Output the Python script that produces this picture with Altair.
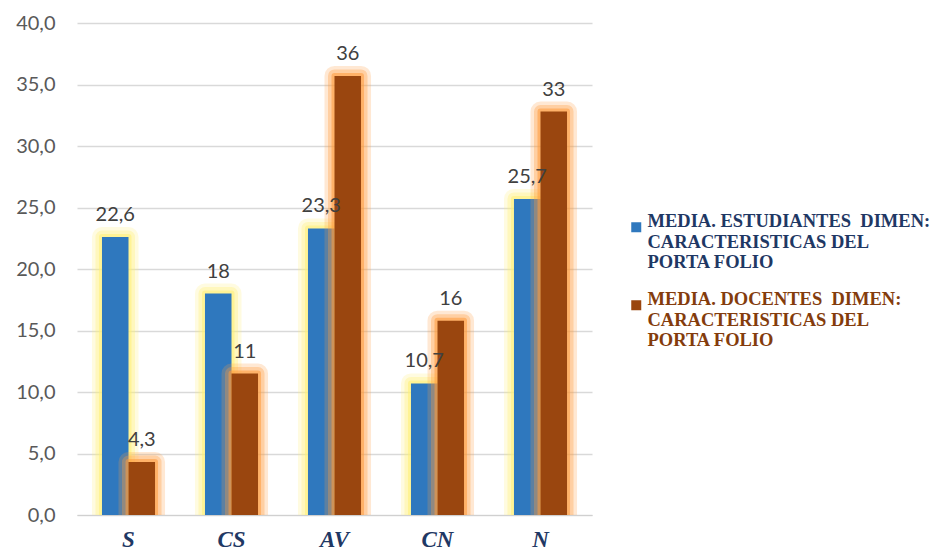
import altair as alt
import pandas as pd

categories = ["S", "CS", "AV", "CN", "N"]
series_est = "MEDIA. ESTUDIANTES\u00a0 DIMEN:|CARACTERISTICAS DEL|PORTA FOLIO"
series_doc = "MEDIA. DOCENTES\u00a0 DIMEN:|CARACTERISTICAS DEL|PORTA FOLIO"
estudiantes = [22.6, 18.0, 23.3, 10.7, 25.7]
docentes = [4.3, 11.5, 35.7, 15.8, 32.8]
estudiantes_labels = ["22,6", "18", "23,3", "10,7", "25,7"]
docentes_labels = ["4,3", "11", "36", "16", "33"]
y_ticks = [0, 5, 10, 15, 20, 25, 30, 35, 40]

BLUE = "#2F78BE"
BROWN = "#9A460F"
BLUE_GLOW = "#FFF176"
BROWN_GLOW = "#FF9C3C"

rows = []
for c, v, l in zip(categories, estudiantes, estudiantes_labels):
    rows.append({"cat": c, "series": series_est, "value": v, "label": l})
for c, v, l in zip(categories, docentes, docentes_labels):
    rows.append({"cat": c, "series": series_doc, "value": v, "label": l})
df = pd.DataFrame(rows)

x_enc = alt.X("cat:N", sort=categories,
              scale=alt.Scale(paddingInner=0.485, paddingOuter=0.2425),
              axis=alt.Axis(title=None, labelAngle=0, ticks=False,
                            labelFont="Liberation Serif", labelFontWeight="bold",
                            labelFontStyle="italic", labelFontSize=23,
                            labelColor="#1F3864", labelPadding=13,
                            domain=True, domainColor="#D0D0D0", grid=False))
xo_enc = alt.XOffset("series:N", sort=[series_est, series_doc],
                     scale=alt.Scale(domain=[series_est, series_doc], paddingInner=0, paddingOuter=0))
y_enc = alt.Y("value:Q", scale=alt.Scale(domain=[0, 40], nice=False),
              axis=alt.Axis(title=None, values=y_ticks, ticks=False, domain=False,
                            gridColor="#D9D9D9", gridWidth=1.3,
                            labelFont="Lato", labelFontSize=20, labelColor="#595959",
                            labelPadding=22,
                            labelExpr="replace(format(datum.value, '.1f'), '.', ',')"))

base = alt.Chart(df)


def bar_layers(name, color, glow, label_color, legend_y):
    d = base.transform_filter(alt.datum.series == name)
    glows = []
    for sw, op in [(20, 0.22), (13, 0.32), (6, 0.55)]:
        glows.append(d.mark_bar(fill=glow, stroke=glow, strokeWidth=sw, strokeJoin="round",
                                opacity=op, clip=True).encode(x=x_enc, xOffset=xo_enc, y=y_enc))
    bar = d.mark_bar().encode(
        x=x_enc, xOffset=xo_enc, y=y_enc,
        color=alt.Color("series:N",
                        scale=alt.Scale(domain=[name], range=[color]),
                        legend=alt.Legend(title=None, orient="none",
                                          legendX=550, legendY=legend_y,
                                          symbolType="square", symbolSize=100,
                                          symbolStrokeWidth=0,
                                          labelFont="Liberation Serif",
                                          labelFontWeight="bold",
                                          labelFontSize=18.5,
                                          labelColor=label_color,
                                          labelLimit=400,
                                          labelBaseline="alphabetic",
                                          labelOffset=2,
                                          labelExpr="split(datum.label, '|')")))
    return glows + [bar]


txt = base.mark_text(font="Lato", fontSize=20, color="#404040",
                     baseline="alphabetic", dy=-16).encode(
    x=x_enc, xOffset=xo_enc, y=y_enc, text="label:N")

layers = bar_layers(series_est, BLUE, BLUE_GLOW, "#1F3864", 195) + \
    bar_layers(series_doc, BROWN, BROWN_GLOW, "#843C0C", 273) + [txt]

chart = alt.layer(*layers).resolve_scale(color="independent").properties(
    width=515, height=492,
    background="white",
    autosize=alt.AutoSizeParams(type="none"),
    padding={"left": 77, "top": 23, "right": 340, "bottom": 35},
).configure_view(stroke=None)

chart.save("out.html", embed_options={"renderer": "svg", "actions": False})
